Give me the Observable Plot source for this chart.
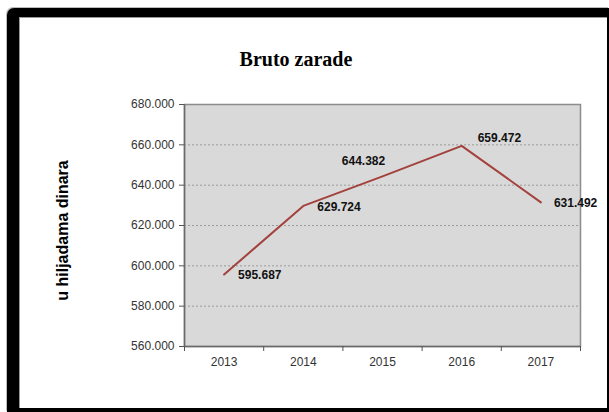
<!DOCTYPE html>
<html><head><meta charset="utf-8">
<script src="https://cdn.jsdelivr.net/npm/d3@7"></script>
<script src="https://cdn.jsdelivr.net/npm/@observablehq/plot@0.6"></script>
<style>
body{margin:0;background:#fff;}
#wrap{position:relative;width:609px;height:412px;overflow:hidden;}
#outer{position:absolute;left:7px;top:8px;width:602px;height:404px;background:#000;border-top-left-radius:7px;box-shadow:-1px -1px 0 #bbb;}
#inner{position:absolute;left:19px;top:17px;width:587px;height:390px;background:#fff;border-top:1px solid #999;border-left:1px solid #999;}
#title{position:absolute;left:0;width:592px;top:48px;line-height:20px;text-align:center;font:bold 20px "Liberation Serif","Times New Roman",serif;color:#000;}
#chart{position:absolute;left:0;top:0;}
</style></head>
<body>
<div id="wrap">
  <div id="outer"></div>
  <div id="inner"></div>
  <div id="title">Bruto zarade</div>
  <div id="chart"></div>
</div>
<script>
const years = [2013, 2014, 2015, 2016, 2017];
const values = [595687, 629724, 644382, 659472, 631492];
const yTicks = [560000, 580000, 600000, 620000, 640000, 660000, 680000];
const xBounds = [2012.5, 2013.5, 2014.5, 2015.5, 2016.5, 2017.5];
const yTitle = "u hiljadama dinara";

const data = years.map((year, i) => ({year, value: values[i]}));
const fmt = d3.formatLocale({decimal: ",", thousands: ".", grouping: [3], currency: ["", ""]}).format(",.0f");

const labelStyle = {x: "year", y: "value", text: d => fmt(d.value), fontWeight: "bold", fontSize: 12, fill: "#111"};

const chart = Plot.plot({
  width: 609,
  height: 412,
  marginLeft: 184,
  marginRight: 29,
  marginTop: 104,
  marginBottom: 66,
  style: {background: "none", fontFamily: "'Liberation Sans', Arial, sans-serif", fontSize: "12px", overflow: "visible"},
  x: {type: "linear", domain: [xBounds[0], xBounds[xBounds.length - 1]]},
  y: {domain: [yTicks[0], yTicks[yTicks.length - 1]]},
  marks: [
    Plot.frame({fill: "#d9d9d9", stroke: "#8c8c8c", strokeWidth: 1.5}),
    Plot.gridY(yTicks.slice(1, -1), {stroke: "#9a9a9a", strokeOpacity: 1, strokeDasharray: "2,2"}),
    Plot.ruleX([xBounds[0]], {stroke: "#6a6a6a", strokeWidth: 1.5}),
    Plot.ruleY([yTicks[0]], {stroke: "#6a6a6a", strokeWidth: 1.5}),
    Plot.axisY(yTicks, {tickSize: 5, tickPadding: 5, tickFormat: fmt, label: null, stroke: "#555", fill: "#333", fontSize: 12}),
    Plot.axisX(xBounds, {tickSize: 5, tickFormat: () => "", label: null, stroke: "#555"}),
    Plot.axisX(years, {tickSize: 0, tickPadding: 11, tickFormat: d => String(d), label: null, fill: "#333", fontSize: 12}),
    Plot.text([yTitle], {text: d => d, frameAnchor: "left", textAnchor: "middle", lineAnchor: "middle", rotate: -90, dx: -122, dy: 5, fontWeight: "bold", fontSize: 16, fill: "#000"}),
    Plot.line(data, {x: "year", y: "value", stroke: "#a3413d", strokeWidth: 2}),
    Plot.text(data, {...labelStyle, filter: d => d.year === 2013 || d.year === 2014, textAnchor: "start", dx: 14, dy: 1}),
    Plot.text(data, {...labelStyle, filter: d => d.year === 2015, textAnchor: "middle", dx: -19, dy: -15}),
    Plot.text(data, {...labelStyle, filter: d => d.year === 2016, textAnchor: "start", dx: 16, dy: -8}),
    Plot.text(data, {...labelStyle, filter: d => d.year === 2017, textAnchor: "start", dx: 13, dy: 1})
  ]
});
document.getElementById("chart").appendChild(chart);
</script>
</body></html>
